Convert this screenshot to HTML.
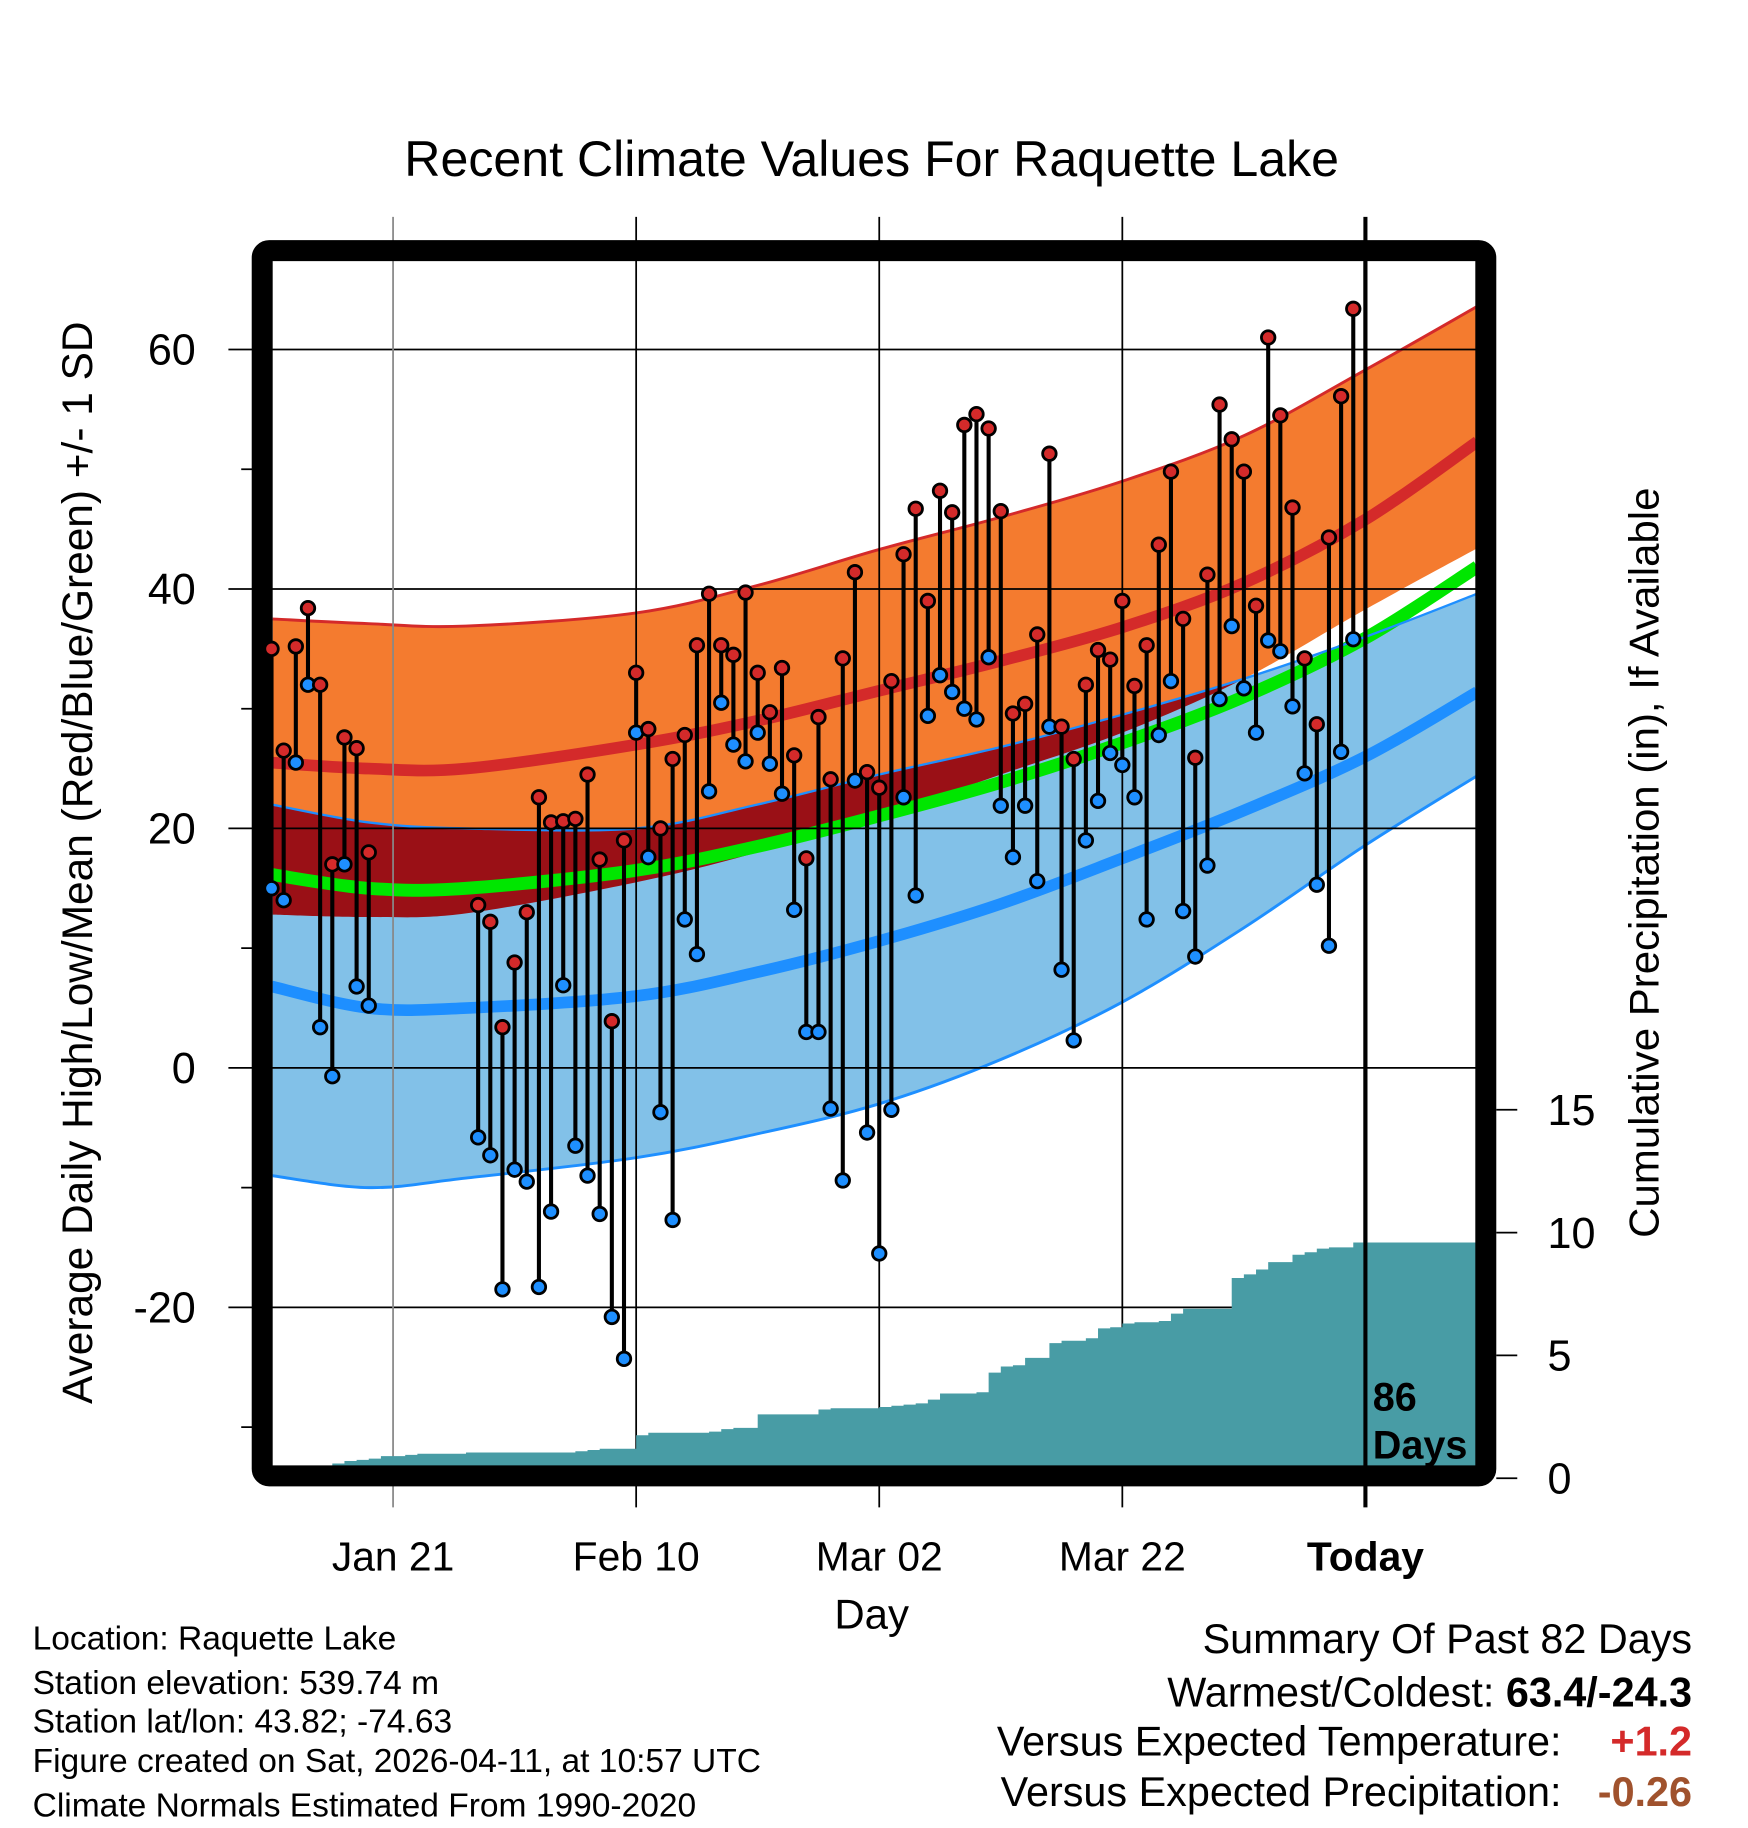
<!DOCTYPE html>
<html><head><meta charset="utf-8"><style>
html,body{margin:0;padding:0;background:#fff;}
svg{display:block;font-family:"Liberation Sans",Arial,sans-serif;}
</style></head><body>
<svg id="chart" width="1748" height="1828" viewBox="0 0 1500 1568" preserveAspectRatio="none" xmlns="http://www.w3.org/2000/svg">
<defs>
<clipPath id="plotclip"><rect x="234" y="224" width="1033" height="1034"/></clipPath>
</defs>
<text x="748" y="151" font-size="43" text-anchor="middle">Recent Climate Values For Raquette Lake</text>
<g id="bands" clip-path="url(#plotclip)"></g>
<g id="grid"></g>
<g id="precip" clip-path="url(#plotclip)"></g>
<rect x="225" y="215" width="1050" height="1051" rx="6" fill="none" stroke="#000" stroke-width="18"/>
<g id="obs"></g>
<g id="axes"></g>
<text x="1178" y="1210" font-size="34" font-weight="bold">86</text>
<text x="1178" y="1251" font-size="34" font-weight="bold">Days</text>
<text transform="translate(79,740) rotate(-90)" font-size="36.4" text-anchor="middle">Average Daily High/Low/Mean (Red/Blue/Green) +/- 1 SD</text>
<text transform="translate(1423,740) rotate(-90)" font-size="36" text-anchor="middle">Cumulative Precipitation (in), If Available</text>
<text x="748" y="1397" font-size="36" text-anchor="middle">Day</text>
<g font-size="28.8">
<text x="28" y="1415">Location: Raquette Lake</text>
<text x="28" y="1453">Station elevation: 539.74 m</text>
<text x="28" y="1486">Station lat/lon: 43.82; -74.63</text>
<text x="28" y="1520">Figure created on Sat, 2026-04-11, at 10:57 UTC</text>
<text x="28" y="1558">Climate Normals Estimated From 1990-2020</text>
</g>
<g font-size="35.5">
<text x="1452" y="1418" text-anchor="end">Summary Of Past 82 Days</text>
<text x="1452" y="1464" text-anchor="end">Warmest/Coldest: <tspan font-weight="bold">63.4/-24.3</tspan></text>
<text x="1340" y="1506" text-anchor="end">Versus Expected Temperature:</text>
<text x="1452" y="1506" text-anchor="end" font-weight="bold" fill="#d42a2a">+1.2</text>
<text x="1340" y="1549" text-anchor="end">Versus Expected Precipitation:</text>
<text x="1452" y="1549" text-anchor="end" font-weight="bold" fill="#a0522d">-0.26</text>
</g>
</svg>
<script>
// ---- data ----
const highs = [35,26.5,35.2,38.4,32,17,27.6,26.7,18,null,null,null,null,null,null,null,null,13.6,12.2,3.4,8.8,13,22.6,20.5,20.6,20.8,24.5,17.4,3.9,19,33,28.3,20,25.8,27.8,35.3,39.6,35.3,34.5,39.7,33,29.7,33.4,26.1,17.5,29.3,24.1,34.2,41.4,24.7,23.4,32.3,42.9,46.7,39,48.2,46.4,53.7,54.6,53.4,46.5,29.6,30.4,36.2,51.3,28.5,25.8,32,34.9,34.1,39,31.9,35.3,43.7,49.8,37.5,25.9,41.2,55.4,52.5,49.8,38.6,61,54.5,46.8,34.2,28.7,44.3,56.1,63.4];
const lows = [15,14,25.5,32,3.4,-0.7,17,6.8,5.2,null,null,null,null,null,null,null,null,-5.8,-7.3,-18.5,-8.5,-9.5,-18.3,-12,6.9,-6.5,-9,-12.2,-20.8,-24.3,28,17.6,-3.7,-12.7,12.4,9.5,23.1,30.5,27,25.6,28,25.4,22.9,13.2,3,3,-3.4,-9.4,24,-5.4,-15.5,-3.5,22.6,14.4,29.4,32.8,31.4,30,29.1,34.3,21.9,17.6,21.9,15.6,28.5,8.2,2.3,19,22.3,26.3,25.3,22.6,12.4,27.8,32.3,13.1,9.3,16.9,30.8,36.9,31.7,28,35.7,34.8,30.2,24.6,15.3,10.2,26.4,35.8];
const precip = [0,0,0,0.1,0.5,0.6,0.7,0.75,0.8,0.9,0.9,0.95,1.0,1.0,1.0,1.0,1.05,1.05,1.05,1.05,1.05,1.05,1.05,1.05,1.05,1.1,1.15,1.2,1.2,1.2,1.75,1.85,1.85,1.85,1.85,1.85,1.9,2.0,2.05,2.05,2.6,2.6,2.6,2.6,2.6,2.8,2.85,2.85,2.85,2.85,2.9,2.95,3.0,3.05,3.2,3.45,3.45,3.45,3.5,4.3,4.55,4.6,4.9,4.9,5.5,5.6,5.6,5.7,6.1,6.15,6.3,6.35,6.35,6.4,6.7,6.9,6.9,6.9,6.9,8.15,8.3,8.5,8.8,8.8,9.1,9.2,9.35,9.4,9.4,9.6];
const normDays = [0,8,16,30,40,50,60,70,80,90,99.2];
const upperHigh = [37.5,37.1,36.9,38,40.3,43.3,46,49,52.8,58.3,63.6];
const meanHigh = [25.5,25,25,27,29,31.5,34,36.8,40.5,45.8,52.3];
const lowerHigh = [12.8,12.6,12.9,15.5,18,21,24.5,28,32.5,38.3,43.4];
const upperLow = [22,20.5,20,20,22,24.5,26.8,29.5,32.5,36,39.6];
const meanLow = [6.8,5,5,6,8,10.6,13.7,17.5,21.5,26,31.4];
const lowerLow = [-9,-10,-9.2,-7.5,-5.5,-3,0.7,5.5,11.7,18.6,24.4];
const yTicks = [60,40,20,0,-20];
const yMinor = [50,30,10,-10,-30];
const pTicks = [0,5,10,15];
const xTickDays = [10,30,50,70,90];
const xTickLabels = ["Jan 21","Feb 10","Mar 02","Mar 22","Today"];
// ---- scales ----
const X = d => 233 + d*10.43;
const Y = v => 916 - v*10.27;
const P = v => 1268 - v*21.07;
const NS = "http://www.w3.org/2000/svg";
function mk(parent, tag, attrs){const e=document.createElementNS(NS,tag);for(const k in attrs)e.setAttribute(k,attrs[k]);parent.appendChild(e);return e;}
function pts(days, vals){return days.map((d,i)=>[X(d),Y(vals[i])]);}
function smooth(p){let s="M"+p[0][0]+","+p[0][1];for(let i=0;i<p.length-1;i++){const p0=p[Math.max(0,i-1)],p1=p[i],p2=p[i+1],p3=p[Math.min(p.length-1,i+2)];
const c1=[p1[0]+(p2[0]-p0[0])/6,p1[1]+(p2[1]-p0[1])/6],c2=[p2[0]-(p3[0]-p1[0])/6,p2[1]-(p3[1]-p1[1])/6];
s+=" C"+c1[0]+","+c1[1]+" "+c2[0]+","+c2[1]+" "+p2[0]+","+p2[1];}return s;}
function band(up, lo){const a=pts(normDays,up),b=pts(normDays,lo).reverse();const top=smooth(a);const bot=smooth(b).replace(/^M/,"L");return top+" "+bot+" Z";}
const bands=document.getElementById('bands');
const defs=document.querySelector('defs');
const cp=mk(defs,'clipPath',{id:'orangeclip'});
mk(cp,'path',{d:band(upperHigh,lowerHigh)});
let e;
e=mk(bands,'path',{d:band(upperHigh,lowerHigh),fill:'#f47b2f'});


e=mk(bands,'path',{d:band(upperLow,lowerLow),fill:'#82c1e8'});


e=mk(bands,'path',{d:band(upperLow,lowerLow),fill:'#9a1016','clip-path':'url(#orangeclip)'});


const meanAvg=meanHigh.map((v,i)=>(v+meanLow[i])/2);
e=mk(bands,'path',{d:smooth(pts(normDays,meanAvg)),fill:'none',stroke:'#00e600','stroke-width':11});


e=mk(bands,'path',{d:smooth(pts(normDays,meanHigh)),fill:'none',stroke:'#d42a2a','stroke-width':10});


e=mk(bands,'path',{d:smooth(pts(normDays,meanLow)),fill:'none',stroke:'#1e8fff','stroke-width':10});


e=mk(bands,'path',{d:smooth(pts(normDays,upperHigh)),fill:'none',stroke:'#d42a2a','stroke-width':2.5});


e=mk(bands,'path',{d:smooth(pts(normDays,upperLow)),fill:'none',stroke:'#1e8fff','stroke-width':2});


e=mk(bands,'path',{d:smooth(pts(normDays,lowerLow)),fill:'none',stroke:'#1e8fff','stroke-width':2.5});


// grid
const grid=document.getElementById('grid');
yTicks.forEach(v=>{
 e=mk(grid,'line',{x1:196,x2:1267,y1:Y(v),y2:Y(v),stroke:'#000','stroke-width':1.5});
 
 
});
yMinor.forEach(v=>{
 e=mk(grid,'line',{x1:207,x2:222,y1:Y(v),y2:Y(v),stroke:'#000','stroke-width':1.5});
 
 
});
xTickDays.forEach((d,i)=>{
 const today=i===xTickDays.length-1;
 e=mk(grid,'line',{x1:X(d),x2:X(d),y1:186,y2:1293,stroke:today?'#000':(i===0?'#888':'#000'),'stroke-width':today?3.5:1.5});
 
 
});
// precip
const pg=document.getElementById('precip');
let d="M"+X(0)+","+P(0);
precip.forEach((v,i)=>{d+=" L"+X(i)+","+P(v)+" L"+X(i+1)+","+P(v);});
d+=" L1267,"+P(precip[precip.length-1])+" L1267,"+P(0)+" Z";
e=mk(pg,'path',{d:d,fill:'#489ca5'});


e=mk(pg,'line',{x1:X(90),x2:X(90),y1:224,y2:1258,stroke:'#000','stroke-width':3.5});


// observations
const obs=document.getElementById('obs');
highs.forEach((h,i)=>{
 const l=lows[i]; if(h===null||l===null) return;
 e=mk(obs,'line',{x1:X(i),x2:X(i),y1:Y(h),y2:Y(l),stroke:'#000','stroke-width':3.5});
 
 
});
highs.forEach((h,i)=>{
 const l=lows[i]; if(h===null||l===null) return;
 e=mk(obs,'circle',{cx:X(i),cy:Y(l),r:5.8,fill:'#1e8fff',stroke:'#000','stroke-width':2.4});
 
 
 e=mk(obs,'circle',{cx:X(i),cy:Y(h),r:5.8,fill:'#d42a2a',stroke:'#000','stroke-width':2.4});
 
 
});
// axes labels
const ax=document.getElementById('axes');
yTicks.forEach(v=>{
 e=mk(ax,'text',{x:168,y:Y(v)+13,'font-size':37,'text-anchor':'end'});
 e.textContent=String(v);
 
 
});
pTicks.forEach(v=>{
 e=mk(ax,'line',{x1:1284,x2:1302,y1:P(v),y2:P(v),stroke:'#000','stroke-width':1.5});
 
 
 e=mk(ax,'text',{x:1328,y:P(v)+13,'font-size':37});
 e.textContent=String(v);
 
 
});
xTickDays.forEach((dd,i)=>{
 e=mk(ax,'text',{x:X(dd),y:1347,'font-size':35,'text-anchor':'middle','font-weight':i===4?'bold':'normal'});
 e.textContent=xTickLabels[i];
 
 
});
</script>
</body></html>
